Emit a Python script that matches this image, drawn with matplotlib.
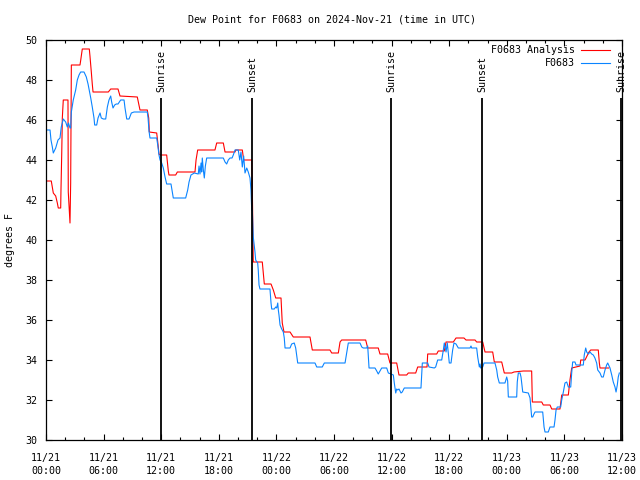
import matplotlib
matplotlib.use("Agg")
import matplotlib.pyplot as plt
from matplotlib.ticker import MultipleLocator

# hours since 2024-11-21 00:00 UTC, dew point in degrees F
ANALYSIS_H = [0.0, 0.55, 0.76, 1.01, 1.18, 1.28, 1.53, 1.56, 1.64, 1.70, 1.80, 2.29, 2.32,
              2.50, 2.57, 2.64, 3.54, 3.61, 3.78, 4.51, 4.58, 4.72, 4.82, 4.90, 6.49, 6.74,
              7.50, 7.71, 9.51, 9.79, 10.55, 10.70, 10.76, 11.53, 11.64, 11.77, 11.88, 12.57,
              12.74, 12.81, 13.51, 13.68, 15.52, 15.63, 15.80, 17.60, 17.78, 18.47, 18.65,
              19.69, 19.76, 20.45, 20.59, 21.43, 21.49, 21.59, 22.53, 22.74, 23.44, 23.68,
              23.93, 24.48, 24.61, 24.79, 25.42, 25.76, 27.50, 27.74, 29.58, 29.76, 30.45,
              30.63, 30.80, 33.30, 33.51, 34.61, 34.79, 35.59, 35.83, 36.53, 36.77, 37.57,
              37.74, 38.51, 38.72, 39.69, 39.76, 40.70, 40.86, 41.49, 41.67, 42.43, 42.71,
              43.54, 43.75, 44.69, 44.86, 45.49, 45.73, 46.53, 46.70, 47.47, 47.74, 48.51,
              48.75, 49.72, 50.59, 50.66, 51.64, 51.80, 52.50, 52.68, 53.54, 53.72, 54.41,
              54.58, 54.76, 55.63, 55.70, 56.15, 56.56, 56.74, 57.53, 57.64, 57.71, 58.60]
ANALYSIS_F = [42.95, 42.95, 42.35, 42.2, 41.85, 41.6, 41.6, 42.5, 44.35, 46.1, 47.0, 47.0, 42.4,
              40.85, 42.85, 48.75, 48.75, 48.97, 49.55, 49.55, 49.2, 48.4, 47.8, 47.4, 47.4, 47.55,
              47.55, 47.2, 47.15, 46.5, 46.5, 46.1, 45.4, 45.35, 44.9, 44.3, 44.25, 44.25,
              43.45, 43.25, 43.25, 43.4, 43.4, 44.0, 44.5, 44.5, 44.85, 44.85, 44.4,
              44.4, 44.5, 44.5, 44.0, 44.0, 42.65, 38.9, 38.9, 37.8, 37.8, 37.5,
              37.1, 37.1, 35.85, 35.4, 35.4, 35.15, 35.15, 34.5, 34.5, 34.35, 34.35,
              34.9, 35.0, 35.0, 34.6, 34.6, 34.3, 34.3, 33.85, 33.85, 33.25, 33.25,
              33.35, 33.35, 33.65, 33.65, 34.3, 34.3, 34.45, 34.45, 34.9, 34.9, 35.1,
              35.1, 35.0, 35.0, 34.9, 34.9, 34.4, 34.4, 33.9, 33.9, 33.35, 33.35,
              33.4, 33.45, 33.45, 31.9, 31.9, 31.75, 31.75, 31.55, 31.55, 32.25, 32.25,
              33.0, 33.6, 33.7, 34.0, 34.0, 34.4, 34.5, 34.5, 33.85, 33.6, 33.6]

OBS_H = [0.0, 0.42, 0.52, 0.66, 0.76, 1.01, 1.25, 1.46, 1.59, 1.80, 2.05, 2.22, 2.34, 2.50,
         2.57, 2.64, 2.84, 3.09, 3.26, 3.44, 3.61, 3.96, 4.20, 4.38, 4.66, 4.82, 5.00, 5.07,
         5.28, 5.42, 5.63, 5.76, 5.97, 6.22, 6.39, 6.56, 6.74, 6.84, 6.98, 7.15, 7.32, 7.50,
         7.78, 8.13, 8.23, 8.41, 8.65, 8.89, 9.17, 10.55, 10.63, 10.73, 10.83, 11.53, 11.64,
         11.77, 11.88, 12.05, 12.22, 12.40, 12.57, 13.02, 13.26, 14.55, 14.76, 14.90, 15.10,
         15.45, 15.86, 15.94, 16.04, 16.15, 16.22, 16.28, 16.39, 16.49, 16.60, 16.74, 18.47,
         18.65, 18.82, 18.99, 19.17, 19.38, 19.51, 19.69, 20.03, 20.18, 20.31, 20.45, 20.59,
         20.73, 20.91, 21.07, 21.25, 21.35, 21.43, 21.49, 21.59, 21.77, 21.84, 22.05, 22.11,
         22.19, 22.29, 23.33, 23.44, 23.51, 23.78, 23.93, 24.03, 24.14, 24.20, 24.27, 24.38,
         24.55, 24.72, 24.82, 24.90, 25.42, 25.59, 25.86, 26.01, 26.22, 28.02, 28.20, 28.78,
         28.99, 31.15, 31.32, 31.49, 32.71, 32.89, 33.05, 33.41, 33.51, 33.65, 34.27, 34.45,
         34.61, 34.79, 34.97, 35.49, 35.66, 35.94, 36.18, 36.28, 36.43, 36.53, 36.64, 36.77,
         36.98, 37.11, 37.32, 39.06, 39.20, 39.76, 39.90, 40.45, 40.59, 40.80, 41.22, 41.39,
         41.49, 41.67, 41.80, 41.91, 42.01, 42.19, 42.36, 42.50, 42.71, 42.95, 44.17, 44.27,
         44.34, 44.86, 44.97, 45.14, 45.21, 45.28, 45.49, 45.63, 46.77, 46.95, 47.05, 47.22,
         47.81, 47.99, 48.09, 48.16, 49.03, 49.09, 49.20, 49.38, 49.48, 49.66, 50.24, 50.42,
         50.59, 50.70, 50.83, 50.94, 51.74, 51.88, 51.98, 52.32, 52.50, 52.92, 53.02, 53.13,
         53.26, 53.61, 53.72, 53.89, 54.06, 54.24, 54.41, 54.66, 54.76, 54.86, 55.10, 55.21,
         55.97, 56.07, 56.22, 56.32, 56.49, 56.67, 56.84, 57.01, 57.18, 57.36, 57.47, 57.71,
         57.88, 58.05, 58.23, 58.40, 58.51, 58.61, 58.75, 58.93, 59.09, 59.27, 59.38, 59.51,
         59.61, 59.72]
OBS_F = [45.5, 45.5, 45.0, 44.65, 44.35, 44.6, 45.0, 45.1, 45.65, 46.05, 45.9, 45.65, 45.85, 45.6,
         45.6, 46.4, 47.0, 47.5, 48.0, 48.25, 48.4, 48.4, 48.15, 47.8, 47.1, 46.65, 46.1, 45.75,
         45.75, 46.1, 46.35, 46.1, 46.05, 46.05, 46.65, 47.0, 47.2, 46.9, 46.6, 46.75, 46.8, 46.8,
         47.0, 47.0, 46.6, 46.05, 46.05, 46.35, 46.4, 46.4, 46.1, 45.45, 45.1, 45.1, 44.75,
         44.25, 44.0, 43.85, 43.6, 43.15, 42.8, 42.8, 42.1, 42.1, 42.5, 42.9, 43.25,
         43.35, 43.3, 43.7, 43.3, 43.85, 43.4, 44.1, 43.5, 43.1, 43.7, 44.1, 44.1,
         43.9, 43.8, 44.0, 44.1, 44.1, 44.25, 44.5, 44.5, 44.0, 44.4, 43.65, 44.2,
         43.35, 43.6, 43.4, 43.1, 42.5, 41.5, 41.5, 40.15, 39.4, 39.0, 38.85, 38.5,
         37.75, 37.55, 37.55, 36.85, 36.55, 36.55, 36.65, 36.6, 36.85, 36.5, 36.25, 35.75,
         35.55, 35.4, 35.1, 34.6, 34.6, 34.8, 34.85, 34.6, 33.85, 33.85, 33.65, 33.65,
         33.85, 33.85, 34.35, 34.85, 34.85, 34.65, 34.6, 34.6, 34.7, 33.6, 33.6, 33.45,
         33.3, 33.45, 33.6, 33.6, 33.35, 33.3, 33.25, 32.85, 32.35, 32.55, 32.5, 32.55,
         32.35, 32.4, 32.6, 32.6, 33.85, 33.85, 33.65, 33.6, 33.65, 34.0, 34.0, 34.5,
         34.85, 34.4, 34.85, 34.35, 33.85, 33.85, 34.5, 34.85, 34.8, 34.6, 34.6, 34.7,
         34.6, 34.6, 34.15, 33.65, 33.8, 33.6, 33.65, 33.85, 33.85, 33.5, 33.15, 32.85,
         32.85, 33.15, 32.95, 32.15, 32.15, 32.9, 33.35, 33.35, 33.15, 32.4, 32.35, 32.1,
         31.15, 31.15, 31.3, 31.4, 31.4, 30.65, 30.4, 30.4, 30.65, 30.65, 31.0, 31.5,
         31.65, 31.65, 32.0, 32.4, 32.85, 32.9, 32.65, 32.65, 33.35, 33.9, 33.9, 33.75,
         33.75, 34.25, 34.6, 34.4, 34.3, 34.4, 34.3, 34.25, 34.1, 33.85, 33.5, 33.35,
         33.15, 33.15, 33.5, 33.75, 33.85, 33.75, 33.6, 33.25, 32.9, 32.65, 32.4, 32.75,
         33.15, 33.35]

SUN_H = [11.97, 21.47, 35.97, 45.45, 59.93]
SUN_LABELS = ["Sunrise", "Sunset", "Sunrise", "Sunset", "Sunrise"]

TICK_H = list(range(0, 61, 6))
TICK_LABELS = ["11/%d\n%02d:00" % (21 + h // 24, h % 24) for h in TICK_H]

FONT = "DejaVu Sans Mono"
FS = 7.2
RED = "#ff0000"
BLUE = "#0a84ff"

fig = plt.figure(figsize=(6.4, 4.8), dpi=100)
ax = fig.add_axes([46 / 640, 40 / 480, 576 / 640, 400 / 480])

ax.plot(ANALYSIS_H, ANALYSIS_F, color=RED, lw=0.8)
ax.plot(OBS_H, OBS_F, color=BLUE, lw=0.8)

for h, lab in zip(SUN_H, SUN_LABELS):
    ax.vlines(h, 30, 47.1, color="black", lw=1.3)
    ax.text(h, 47.4, lab, rotation=90, ha="center", va="bottom",
            family=FONT, fontsize=FS, clip_on=False)

ax.set_xlim(0, 60)
ax.set_ylim(30, 50)
ax.set_xticks(TICK_H)
ax.set_xticklabels(TICK_LABELS, family=FONT, fontsize=FS, linespacing=1.35)
ax.xaxis.set_minor_locator(MultipleLocator(2))
ax.set_yticks(range(30, 51, 2))
ax.set_yticklabels([str(v) for v in range(30, 51, 2)], family=FONT, fontsize=FS)
ax.tick_params(which="both", direction="in", top=True, right=True, width=0.8)
ax.tick_params(which="major", length=4.5)
ax.tick_params(which="minor", length=2.5)
ax.tick_params(axis="x", which="major", pad=9.5)
ax.tick_params(axis="y", which="major", pad=6)
for sp in ax.spines.values():
    sp.set_linewidth(0.9)

# legend drawn by hand, gnuplot style (right-justified text, sample after)
ax.text(0.918, 0.975, "F0683 Analysis", transform=ax.transAxes, ha="right", va="center",
        family=FONT, fontsize=FS)
ax.plot([0.929, 0.979], [0.975, 0.975], transform=ax.transAxes, color=RED, lw=0.8)
ax.text(0.918, 0.9425, "F0683", transform=ax.transAxes, ha="right", va="center",
        family=FONT, fontsize=FS)
ax.plot([0.929, 0.979], [0.9425, 0.9425], transform=ax.transAxes, color=BLUE, lw=0.8)

fig.text(332 / 640, 1 - 20 / 480, "Dew Point for F0683 on 2024-Nov-21 (time in UTC)",
         ha="center", va="center", family=FONT, fontsize=FS)
fig.text(10 / 640, 0.5, "degrees F", rotation=90, ha="center", va="center",
         family=FONT, fontsize=FS)

fig.savefig("out.png", dpi=100)
